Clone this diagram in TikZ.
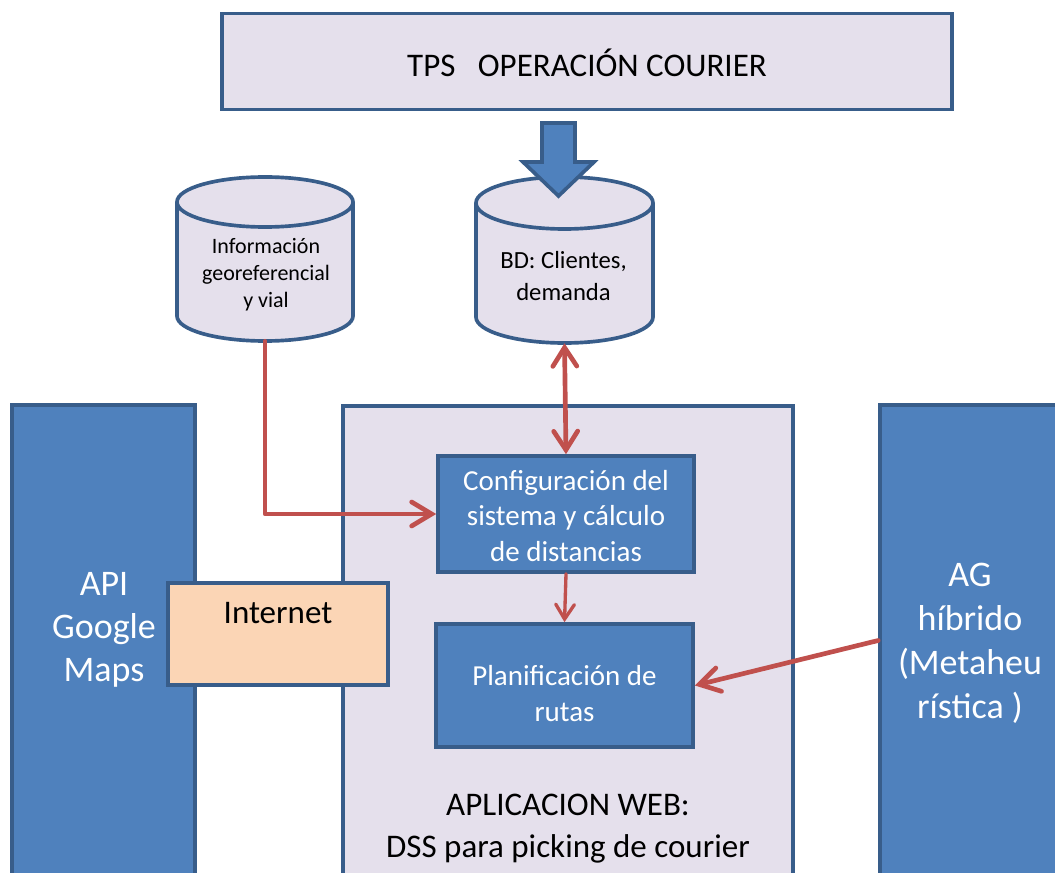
\documentclass[tikz,border=0pt]{standalone}
\usepackage{fontspec}
\setmainfont{Carlito}
\usetikzlibrary{arrows.meta,calc}
\definecolor{lav}{HTML}{E5E0EC}
\definecolor{bluefill}{HTML}{4F81BD}
\definecolor{bord}{HTML}{385D8A}
\definecolor{redline}{HTML}{C0504D}
\definecolor{peach}{HTML}{FBD5B5}
\def\px{0.75pt}
\tikzset{
  boxbase/.style={rectangle, draw=bord, line width=2.75pt, inner sep=0pt},
  lavbox/.style={boxbase, fill=lav},
  bluebox/.style={boxbase, fill=bluefill},
  peachbox/.style={boxbase, fill=peach},
  ghost/.style={rectangle, inner sep=0pt},
  wtext/.style={text=white, align=center, inner sep=0pt},
  btext/.style={text=black, align=center, inner sep=0pt},
  redarrow/.style={draw=redline, line width=3.5pt, line cap=round, line join=round,
     -{Straight Barb[length=15pt,width=18pt,line cap=round]}},
  redboth/.style={draw=redline, line width=3.5pt, line cap=round,
     {Straight Barb[length=14pt,width=18pt,line cap=round]}-{Straight Barb[length=14pt,width=18pt,line cap=round]}},
  redsmall/.style={draw=redline, line width=2.5pt, line cap=round,
     -{Straight Barb[length=11pt,width=14pt,line cap=round]}},
}
\begin{document}
\begin{tikzpicture}[x=0.75pt,y=-0.75pt]
\useasboundingbox (0,0) rectangle (1055,873);
\clip (0,0) rectangle (1055,873);
\fill[white] (0,0) rectangle (1055,873);

% top box
\node[lavbox, minimum width=730*\px, minimum height=96*\px] (tps) at (587,61.5) {};
\node[btext, font=\fontsize{24.75pt}{30pt}\selectfont] (tpst) at (587,63) {TPS\ \ \ OPERACIÓN COURIER};

% large boxes
\node[bluebox, minimum width=183*\px, minimum height=471*\px] (api) at (103.5,640.5) {};
\node[wtext, font=\fontsize{27pt}{32.5pt}\selectfont] (apit) at (104,630) {API\\Google\\Maps};

\node[lavbox, minimum width=450*\px, minimum height=480*\px] (web) at (568,646) {};
\node[btext, font=\fontsize{24.75pt}{31.5pt}\selectfont] (webt) at (568,829) {APLICACION WEB:\\DSS para picking de courier};

\node[bluebox, minimum width=180*\px, minimum height=471*\px] (ag) at (970,640.5) {};
\node[wtext, font=\fontsize{27pt}{33pt}\selectfont] (agt) at (970,643.5) {AG\\híbrido\\(Metaheu\\rística )};

\node[peachbox, minimum width=220*\px, minimum height=102*\px] (inet) at (278,634) {};
\node[btext, font=\fontsize{24.75pt}{30pt}\selectfont] (inett) at (278,613) {Internet};

% inner boxes
\node[bluebox, minimum width=256*\px, minimum height=116*\px] (cfg) at (566,514) {};
\node[wtext, font=\fontsize{21.75pt}{26.6pt}\selectfont] (cfgt) at (566,516) {Configuración del\\sistema y cálculo\\de distancias};

\node[bluebox, minimum width=257*\px, minimum height=123*\px] (plan) at (564.5,685.5) {};
\node[wtext, font=\fontsize{21.75pt}{27pt}\selectfont] (plant) at (564.5,694) {Planificación de\\rutas};

% cylinder 1
\node[ghost, minimum width=176*\px, minimum height=164*\px] (cyl1) at (265,259) {};
\filldraw[fill=lav, draw=bord, line width=2.75pt]
  (177,202) -- (177,316) arc[start angle=180, end angle=360, x radius=66pt, y radius=18.75pt]
  -- (353,202) arc[start angle=0, end angle=180, x radius=66pt, y radius=18.75pt] -- cycle;
\draw[draw=bord, line width=2.75pt] (177,202) arc[start angle=180, end angle=360, x radius=66pt, y radius=18.75pt];
\node[btext, font=\fontsize{16.5pt}{20.25pt}\selectfont] (cyl1t) at (266,275) {Información\\georeferencial\\y vial};

% cylinder 2
\node[ghost, minimum width=177*\px, minimum height=166*\px] (cyl2) at (564.5,260) {};
\filldraw[fill=lav, draw=bord, line width=2.75pt]
  (476,203) -- (476,317) arc[start angle=180, end angle=360, x radius=66.375pt, y radius=19.5pt]
  -- (653,203) arc[start angle=0, end angle=180, x radius=66.375pt, y radius=19.5pt] -- cycle;
\draw[draw=bord, line width=2.75pt] (476,203) arc[start angle=180, end angle=360, x radius=66.375pt, y radius=19.5pt];
\node[btext, font=\fontsize{18.5pt}{24pt}\selectfont] (cyl2t) at (563.5,276) {BD: Clientes,\\demanda};

% block arrow
\filldraw[fill=bluefill, draw=bord, line width=2.75pt, line join=miter]
  (542,123) -- (575,123) -- (575,162) -- (594,162) -- (558.5,196) -- (523,162) -- (542,162) -- cycle;

% connectors
\draw[redarrow] (cyl1.south) |- (cfg.west);
\draw[redboth] (cyl2.south) -- (cfg.north);
\draw[redsmall] (cfg.south) -- (plan.north);
\draw[redarrow] (ag.west) -- (plan.east);
\end{tikzpicture}
\end{document}
